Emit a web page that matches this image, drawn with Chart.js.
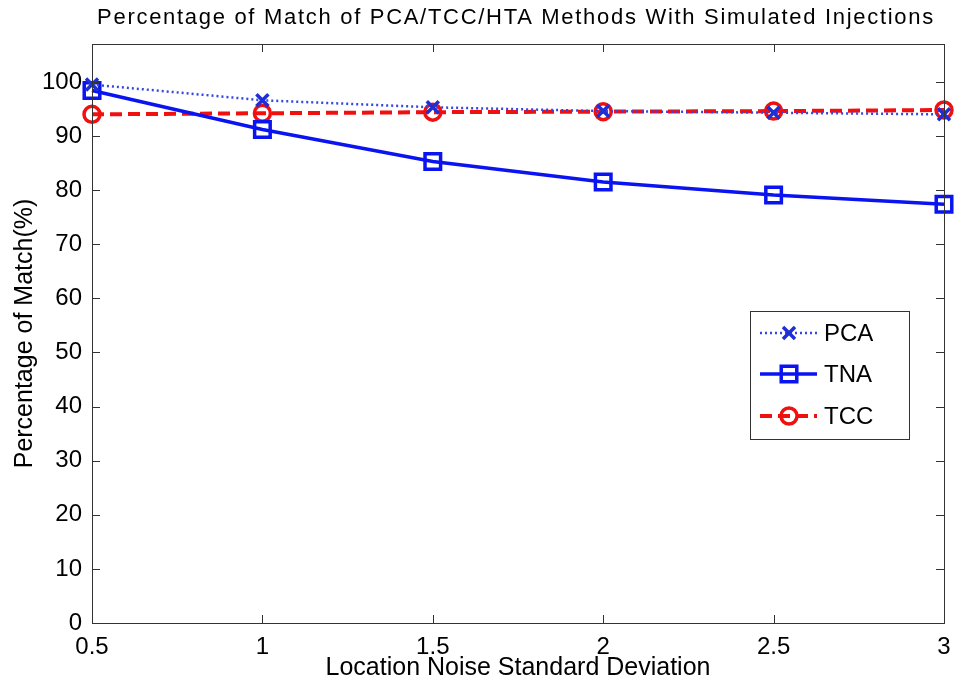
<!DOCTYPE html>
<html>
<head>
<meta charset="utf-8">
<script src="https://cdn.jsdelivr.net/npm/chart.js@4"></script>
<style>
html,body{margin:0;padding:0;background:#fff;}
#wrap{width:954px;height:683px;position:relative;}
</style>
</head>
<body>
<div id="wrap"><canvas id="c" width="954" height="683"></canvas></div>
<script>
const noiseStd = [0.5, 1, 1.5, 2, 2.5, 3];
const pcaValues = [99.5, 96.6, 95.3, 94.6, 94.3, 94.0];
const tnaValues = [98.4, 91.2, 85.3, 81.5, 79.1, 77.4];
const tccValues = [94.0, 94.2, 94.4, 94.5, 94.6, 94.8];
const yTickValues = [0, 10, 20, 30, 40, 50, 60, 70, 80, 90, 100];
const xTickValues = [0.5, 1, 1.5, 2, 2.5, 3];
const seriesNames = ['PCA', 'TNA', 'TCC'];

const FONT = '"Liberation Sans", Arial, sans-serif';
const toPts = vals => noiseStd.map((x, i) => ({x: x, y: vals[i]}));

function drawMarker(ctx, ds, x, y) {
  ctx.save();
  ctx.fillStyle = ds.pointBackgroundColor;
  ctx.strokeStyle = ds.pointBorderColor;
  ctx.lineWidth = ds.pointBorderWidth;
  ctx.beginPath();
  if (ds.pointStyle === 'circle') {
    ctx.arc(x, y, ds.pointRadius, 0, Math.PI * 2);
  } else if (ds.pointStyle === 'rect') {
    const r = ds.pointRadius * Math.SQRT1_2;
    ctx.rect(x - r, y - r, 2 * r, 2 * r);
  } else {
    const r = ds.pointRadius * Math.SQRT1_2;
    ctx.moveTo(x - r, y - r); ctx.lineTo(x + r, y + r);
    ctx.moveTo(x + r, y - r); ctx.lineTo(x - r, y + r);
  }
  ctx.fill(); ctx.stroke();
  ctx.restore();
}

const framePlugin = {
  id: 'frame',
  afterDatasetsDraw(chart) {
    const {ctx, chartArea: a, scales} = chart;
    ctx.save();
    ctx.strokeStyle = '#333';
    ctx.lineWidth = 1;
    ctx.strokeRect(a.left + 0.5, a.top + 0.5, a.right - a.left, a.bottom - a.top);
    const L = 8;
    ctx.beginPath();
    xTickValues.forEach(v => {
      const px = Math.round(scales.x.getPixelForValue(v)) + 0.5;
      ctx.moveTo(px, a.bottom); ctx.lineTo(px, a.bottom - L);
      ctx.moveTo(px, a.top); ctx.lineTo(px, a.top + L);
    });
    yTickValues.forEach(v => {
      const py = Math.round(scales.y.getPixelForValue(v)) + 0.5;
      ctx.moveTo(a.left, py); ctx.lineTo(a.left + L, py);
      ctx.moveTo(a.right, py); ctx.lineTo(a.right - L, py);
    });
    ctx.stroke();

    // legend
    const bx = 750, by = 311, bw = 159, bh = 128;
    ctx.fillStyle = '#fff';
    ctx.fillRect(bx, by, bw, bh);
    ctx.strokeStyle = '#333';
    ctx.strokeRect(bx + 0.5, by + 0.5, bw, bh);
    const rows = [333, 374, 416];
    chart.data.datasets.forEach((ds, i) => {
      const y = rows[i];
      ctx.save();
      ctx.strokeStyle = ds.borderColor;
      ctx.lineWidth = ds.borderWidth;
      ctx.setLineDash(ds.borderDash || []);
      ctx.beginPath();
      ctx.moveTo(760, y); ctx.lineTo(817, y);
      ctx.stroke();
      ctx.restore();
      drawMarker(ctx, ds, 789, y);
      ctx.fillStyle = '#000';
      ctx.font = '24px ' + FONT;
      ctx.textBaseline = 'middle';
      ctx.textAlign = 'left';
      ctx.fillText(ds.label, 824, y + 1);
    });
    ctx.restore();
  }
};

new Chart(document.getElementById('c'), {
  type: 'line',
  data: {
    datasets: [
      {
        label: seriesNames[0], data: toPts(pcaValues),
        borderColor: '#3447e4', borderWidth: 2.5, borderDash: [2, 3],
        pointStyle: 'crossRot', pointRadius: 8.5, pointBorderWidth: 3.5,
        pointBorderColor: '#1f2fd8', pointBackgroundColor: '#1f2fd8'
      },
      {
        label: seriesNames[1], data: toPts(tnaValues),
        borderColor: '#0a14f0', borderWidth: 3.5,
        pointStyle: 'rect', pointRadius: 11, pointBorderWidth: 3.5,
        pointBorderColor: '#0a14f0', pointBackgroundColor: 'rgba(255,255,255,0)'
      },
      {
        label: seriesNames[2], data: toPts(tccValues),
        borderColor: '#f01010', borderWidth: 4, borderDash: [12, 6],
        pointStyle: 'circle', pointRadius: 8, pointBorderWidth: 3.5,
        pointBorderColor: '#f01010', pointBackgroundColor: 'rgba(255,255,255,0)'
      }
    ]
  },
  options: {
    responsive: false,
    animation: false,
    events: [],
    clip: false,
    layout: {autoPadding: false, padding: {top: 44, right: 10, left: 0, bottom: 0}},
    plugins: {
      legend: {display: false},
      tooltip: {enabled: false},
      title: {display: false}
    },
    scales: {
      x: {
        type: 'linear', min: 0.5, max: 3,
        afterBuildTicks(s) { s.ticks = xTickValues.map(v => ({value: v})); },
        afterFit(s) { s.height = 60; s.paddingRight = 0; s.paddingLeft = 0; },
        grid: {display: false, drawTicks: false},
        border: {display: false},
        ticks: {
          color: '#000', font: {family: FONT, size: 24}, padding: 10,
          maxRotation: 0, autoSkip: false,
          callback: v => String(v)
        },
        title: {display: true, text: 'Location Noise Standard Deviation', color: '#000',
          font: {family: FONT, size: 25, lineHeight: 1.1}, padding: {top: 0, bottom: 1}}
      },
      y: {
        type: 'linear', min: 0, max: 107,
        afterBuildTicks(s) { s.ticks = yTickValues.map(v => ({value: v})); },
        afterFit(s) { s.width = 92; s.paddingTop = 0; s.paddingBottom = 0; },
        grid: {display: false, drawTicks: false},
        border: {display: false},
        ticks: {
          color: '#000', font: {family: FONT, size: 24}, padding: 10, autoSkip: false,
          callback: v => String(v)
        },
        title: {display: true, text: 'Percentage of Match(%)', color: '#000',
          font: {family: FONT, size: 25, lineHeight: 1.1}, padding: {top: 11, bottom: 0}}
      }
    }
  },
  plugins: [framePlugin, {
    id: 'titleText',
    afterDraw(chart) {
      const ctx = chart.ctx;
      ctx.save();
      ctx.fillStyle = '#000';
      ctx.font = '22px ' + FONT;
      ctx.letterSpacing = '1.7px';
      ctx.textAlign = 'center';
      ctx.textBaseline = 'middle';
      ctx.fillText('Percentage of Match of PCA/TCC/HTA Methods With Simulated Injections', 516, 18);
      ctx.restore();
    }
  }]
});
</script>
</body>
</html>
